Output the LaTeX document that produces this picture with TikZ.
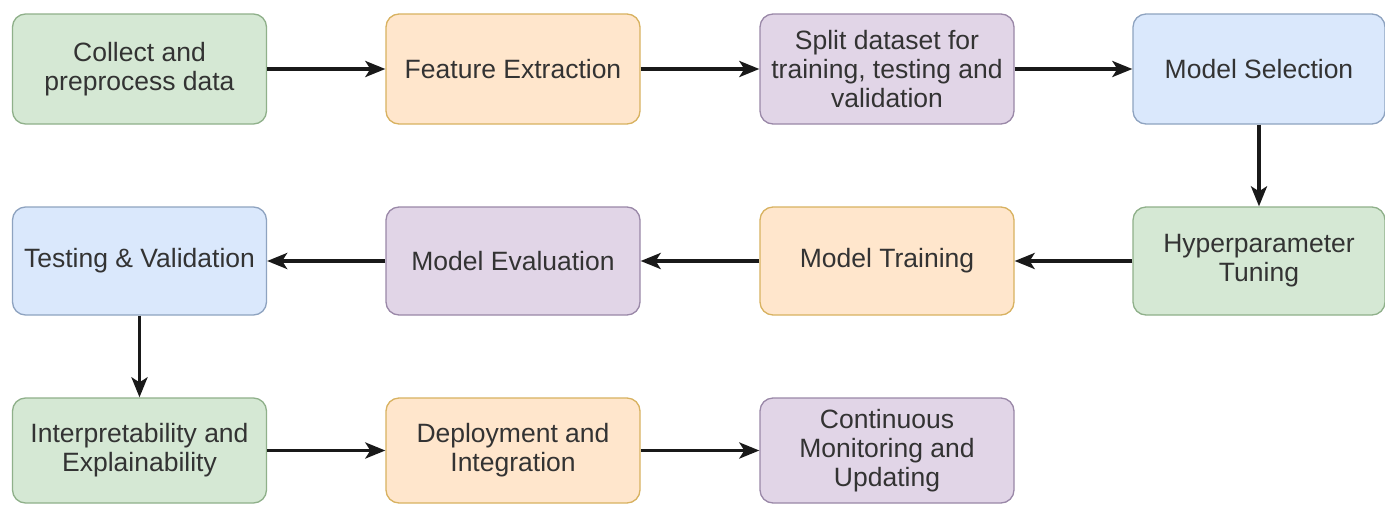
\documentclass[tikz,border=0pt]{standalone}
\usepackage{fontspec}
\setmainfont{Liberation Sans}
\usetikzlibrary{arrows.meta}
\definecolor{gfill}{HTML}{D5E8D4}\definecolor{gdraw}{HTML}{8FB08A}
\definecolor{ofill}{HTML}{FFE6CC}\definecolor{odraw}{HTML}{D8B260}
\definecolor{pfill}{HTML}{E1D5E7}\definecolor{pdraw}{HTML}{9A88A8}
\definecolor{bfill}{HTML}{DAE8FC}\definecolor{bdraw}{HTML}{8EA3C0}
\definecolor{txt}{HTML}{333333}
\begin{document}
\begin{tikzpicture}[x=1pt,y=-1pt,
  box/.style={draw, line width=1.3pt, rounded corners=13pt, minimum width=254pt,
    align=center, text=txt, font=\fontsize{26.5}{29}\selectfont, inner sep=0pt},
  gbox/.style={box, fill=gfill, draw=gdraw},
  obox/.style={box, fill=ofill, draw=odraw},
  pbox/.style={box, fill=pfill, draw=pdraw},
  bbox/.style={box, fill=bfill, draw=bdraw},
  row1/.style={minimum height=110pt},
  row2/.style={minimum height=108pt},
  row3/.style={minimum height=105pt},
  flow/.style={-{Stealth[length=20pt,width=16pt,inset=5pt]}, line width=3.4pt, black!90}]
\useasboundingbox (0,0) rectangle (1385,504);
\fill[white] (0,0) rectangle (1385,504);
% row 1
\node[gbox,row1] (collect) at (139.5,69) {Collect and\\preprocess data};
\node[obox,row1] (feat) at (513,69) {Feature Extraction};
\node[pbox,row1] (split) at (887,69) {Split dataset for\\training, testing and\\validation};
\node[bbox,row1,minimum width=252pt] (msel) at (1259,69) {Model Selection};
% row 2
\node[gbox,row2,minimum width=252pt] (hyper) at (1259,261) {Hyperparameter\\Tuning};
\node[obox,row2] (train) at (887,261) {Model Training};
\node[pbox,row2] (eval) at (513,261) {Model Evaluation};
\node[bbox,row2] (test) at (139.5,261) {Testing \& Validation};
% row 3
\node[gbox,row3] (interp) at (139.5,450.5) {Interpretability and\\Explainability};
\node[obox,row3] (deploy) at (513,450.5) {Deployment and\\Integration};
\node[pbox,row3] (cont) at (887,450.5) {Continuous\\Monitoring and\\Updating};
% connectors
\draw[flow] (collect) -- (feat);
\draw[flow] (feat) -- (split);
\draw[flow] (split) -- (msel);
\draw[flow] (msel) -- (hyper);
\draw[flow] (hyper) -- (train);
\draw[flow] (train) -- (eval);
\draw[flow] (eval) -- (test);
\draw[flow] (test) -- (interp);
\draw[flow] (interp) -- (deploy);
\draw[flow] (deploy) -- (cont);
\end{tikzpicture}
\end{document}
